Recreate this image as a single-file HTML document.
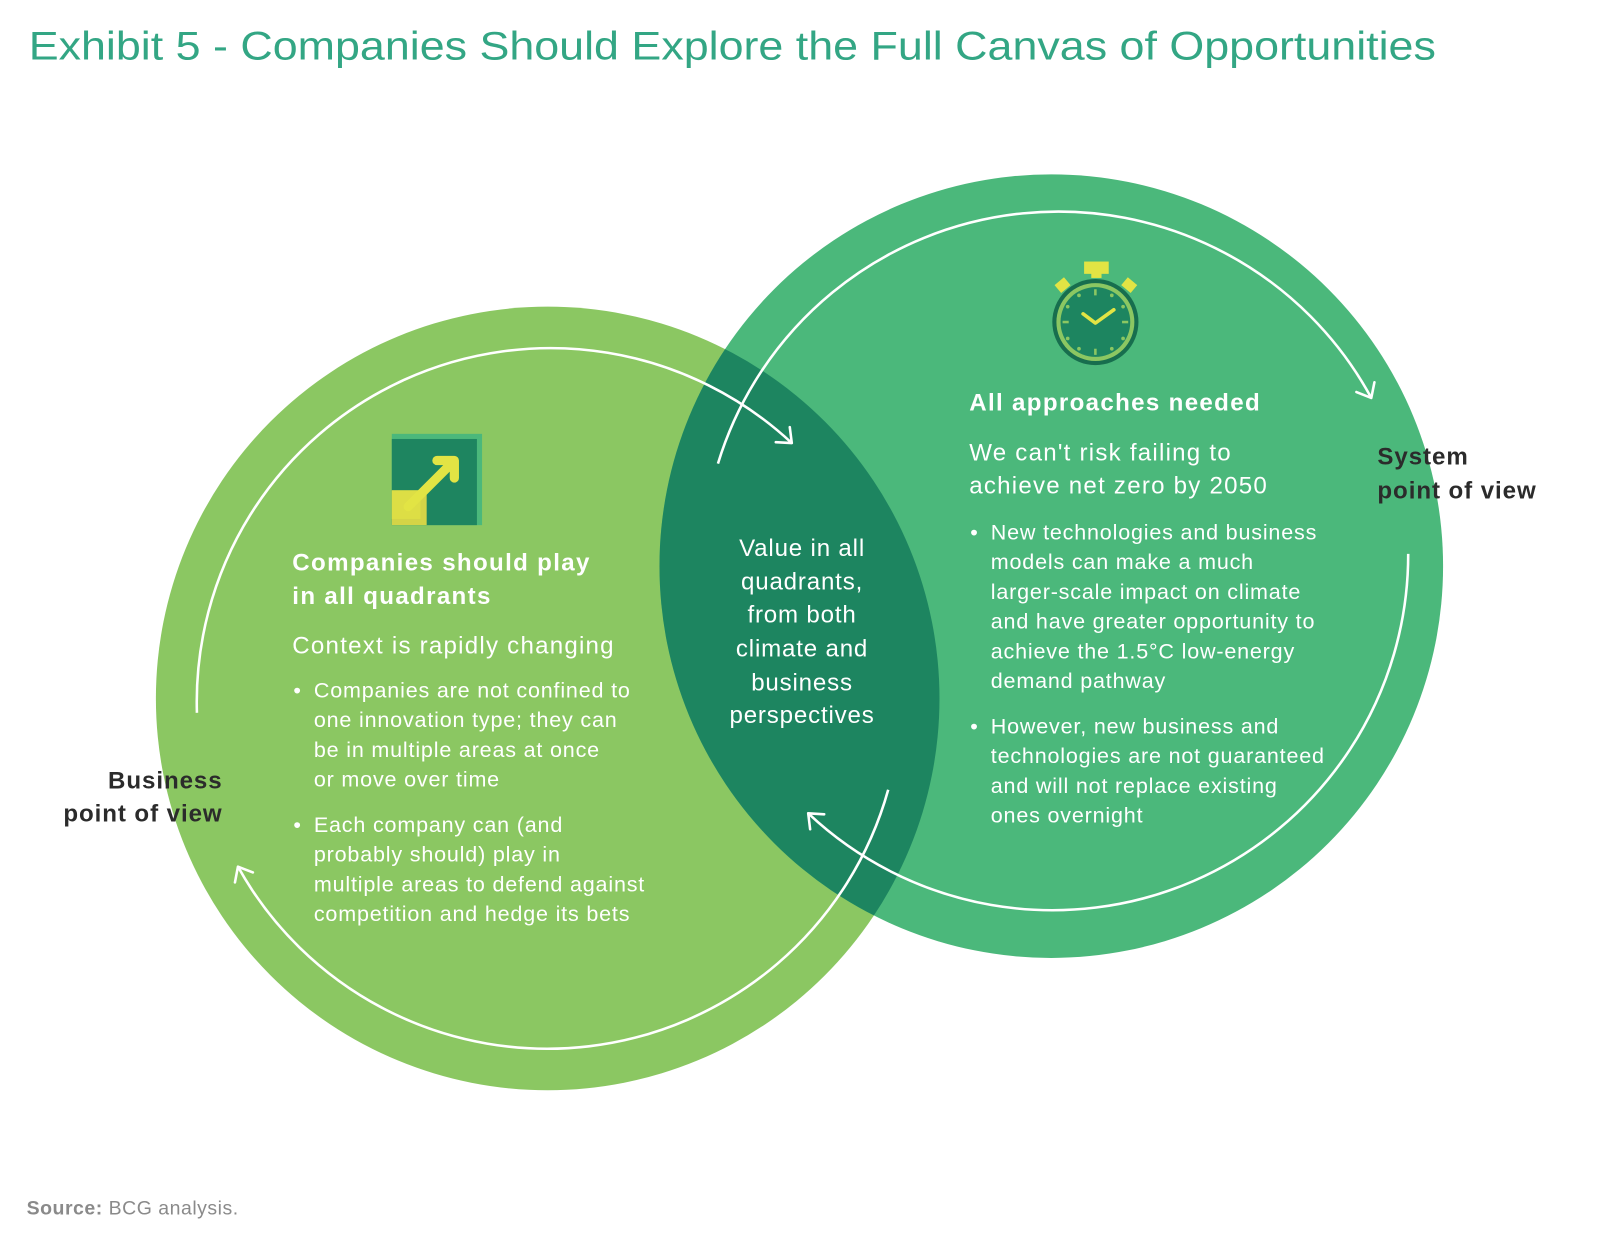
<!DOCTYPE html>
<html><head><meta charset="utf-8"><style>
html,body{margin:0;padding:0;background:#fff;width:1600px;height:1240px;overflow:hidden}
svg{display:block}
text{font-family:"Liberation Sans",sans-serif}
</style></head><body>
<svg width="1600" height="1240" viewBox="0 0 1560 1209" xmlns="http://www.w3.org/2000/svg">
<defs>
<clipPath id="cr"><circle cx="1025" cy="552" r="382"/></clipPath>
<marker id="ah" markerUnits="userSpaceOnUse" markerWidth="30" markerHeight="30" refX="14" refY="12" orient="auto" viewBox="0 0 30 30">
<path d="M2,2 L14,12 L2,22" fill="none" stroke="#fff" stroke-width="2.5" stroke-linecap="round" stroke-linejoin="round"/>
</marker>
</defs>
<rect width="1560" height="1209" fill="#fff"/>
<text x="28" y="58" font-size="39" fill="#33a684" textLength="1372" lengthAdjust="spacingAndGlyphs">Exhibit 5 - Companies Should Explore the Full Canvas of Opportunities</text>

<circle cx="534" cy="681" r="382" fill="#8bc762"/>
<circle cx="1025" cy="552" r="382" fill="#4bb87b"/>
<circle cx="534" cy="681" r="382" fill="#1d8560" clip-path="url(#cr)"/>

<g fill="none" stroke="#fff" stroke-width="2.5">
<path d="M192,695 A345,345 0 0 1 772,432" marker-end="url(#ah)"/>
<path d="M866,770 A345,345 0 0 1 232,845" marker-end="url(#ah)"/>
<path d="M700,452 A347,347 0 0 1 1337,388" marker-end="url(#ah)"/>
<path d="M1373,540 A347,347 0 0 1 788,793" marker-end="url(#ah)"/>
</g>

<!-- square icon -->
<rect x="382" y="423" width="88" height="89" fill="#4bb87b"/>
<rect x="382" y="428" width="83" height="84" fill="#1e8560"/>
<rect x="382" y="478" width="34" height="34" fill="#d4d447"/>
<rect x="382" y="478" width="28" height="28" fill="#e2e444" opacity="0.6"/>
<path d="M398,494 L443,449 M426,449 L443,449 L443,466" fill="none" stroke="#e2e444" stroke-width="9" stroke-linecap="round" stroke-linejoin="round"/>

<!-- clock -->
<rect x="1057" y="255" width="24" height="12" fill="#e2e444"/>
<rect x="1064" y="265" width="10" height="6" fill="#e2e444"/>
<rect x="1030" y="273" width="12" height="10" fill="#e2e444" transform="rotate(-40 1036 278)"/>
<rect x="1095" y="273" width="12" height="10" fill="#e2e444" transform="rotate(40 1101 278)"/>
<circle cx="1068" cy="314" r="42" fill="#176e4e"/>
<circle cx="1068" cy="314" r="38" fill="#8bc762"/>
<circle cx="1068" cy="314" r="34" fill="#1d8560"/>
<g stroke="#8bc762" stroke-width="2.5">
<line x1="1068" y1="282" x2="1068" y2="288"/><line x1="1068" y1="340" x2="1068" y2="346"/>
<line x1="1036" y1="314" x2="1042" y2="314"/><line x1="1094" y1="314" x2="1100" y2="314"/>
</g>
<g fill="#8bc762">
<circle cx="1084" cy="288" r="1.8"/><circle cx="1095" cy="299" r="1.8"/><circle cx="1095" cy="330" r="1.8"/><circle cx="1084" cy="340" r="1.8"/>
<circle cx="1052" cy="288" r="1.8"/><circle cx="1041" cy="299" r="1.8"/><circle cx="1041" cy="330" r="1.8"/><circle cx="1052" cy="340" r="1.8"/>
</g>
<path d="M1056,306 L1068,315 L1086,302" fill="none" stroke="#e2e444" stroke-width="3.5" stroke-linecap="round" stroke-linejoin="round"/>

<g fill="#fff">
<g font-size="23.5" font-weight="bold" letter-spacing="1.3">
<text x="285" y="556">Companies should play</text>
<text x="285" y="589">in all quadrants</text>
<text x="945" y="400">All approaches needed</text>
</g>
<g font-size="23.5" letter-spacing="1.2">
<text x="285" y="637">Context is rapidly changing</text>
<text x="945" y="449">We can't risk failing to</text>
<text x="945" y="481">achieve net zero by 2050</text>
</g>
<g font-size="21" letter-spacing="0.8">
<text x="286" y="680">•</text>
<text x="306" y="680">Companies are not confined to</text>
<text x="306" y="709">one innovation type; they can</text>
<text x="306" y="738">be in multiple areas at once</text>
<text x="306" y="767">or move over time</text>
<text x="286" y="811">•</text>
<text x="306" y="811">Each company can (and</text>
<text x="306" y="840">probably should) play in</text>
<text x="306" y="869">multiple areas to defend against</text>
<text x="306" y="898">competition and hedge its bets</text>
<text x="946" y="526">•</text>
<text x="966" y="526">New technologies and business</text>
<text x="966" y="555">models can make a much</text>
<text x="966" y="584">larger-scale impact on climate</text>
<text x="966" y="613">and have greater opportunity to</text>
<text x="966" y="642">achieve the 1.5°C low-energy</text>
<text x="966" y="671">demand pathway</text>
<text x="946" y="715">•</text>
<text x="966" y="715">However, new business and</text>
<text x="966" y="744">technologies are not guaranteed</text>
<text x="966" y="773">and will not replace existing</text>
<text x="966" y="802">ones overnight</text>
</g>
<g font-size="23.5" text-anchor="middle" letter-spacing="0.8">
<text x="782" y="542">Value in all</text>
<text x="782" y="575">quadrants,</text>
<text x="782" y="607">from both</text>
<text x="782" y="640">climate and</text>
<text x="782" y="673">business</text>
<text x="782" y="705">perspectives</text>
</g>
</g>
<g fill="#2b2b2b" font-size="23.5" font-weight="bold" letter-spacing="0.9">
<text x="1343" y="453">System</text>
<text x="1343" y="486">point of view</text>
<text x="217" y="769" text-anchor="end">Business</text>
<text x="217" y="801" text-anchor="end">point of view</text>
</g>
<text x="26" y="1184" font-size="19" fill="#8a8a8a" letter-spacing="0.5"><tspan font-weight="bold">Source:</tspan> BCG analysis.</text>
</svg>
</body></html>
